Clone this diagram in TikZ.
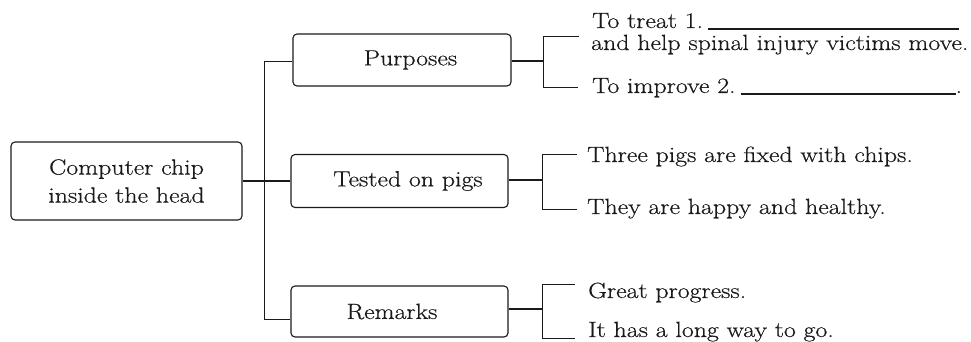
\documentclass[tikz,border=0pt]{standalone}
\usepackage{fontspec}
\setmainfont{Latin Modern Roman}[FakeStretch=1.175,FakeBold=0.5]
\definecolor{ink}{HTML}{1A1A1A}
\begin{document}
\begin{tikzpicture}[x=1pt,y=-1pt,
  every node/.style={font=\fontsize{22}{28}\selectfont,text=ink},
  box/.style={draw=ink,line width=1.1pt,rounded corners=4pt,inner sep=0pt},
  txt/.style={anchor=base west,inner sep=0pt},
  link/.style={draw=ink,line width=1.8pt},
  bline/.style={draw=ink,line width=1pt}]
\useasboundingbox (0,0) rectangle (971,342);

% boxes
\node[box,minimum width=231pt,minimum height=78pt,align=center] (root) at (126.5,181) {Computer chip\\inside the head};
\node[box,minimum width=218pt,minimum height=52pt] (pur) at (402,60) {\hspace*{17pt}Purposes};
\node[box,minimum width=217pt,minimum height=53pt] (test) at (399.5,181) {\hspace*{17pt}Tested on pigs};
\node[box,minimum width=217pt,minimum height=51pt] (rem) at (399.5,311.5) {Remarks\hspace*{15pt}};

% trunk
\coordinate (ttop) at (264,62);
\coordinate (tbot) at (264,319);
\draw[bline] (pur.west |- ttop) -- (ttop) -- (tbot) -- (rem.west |- tbot);
\draw[link] (root.east) -- (test.west);

% purposes bracket
\coordinate (pj) at (543,61);
\coordinate (pa) at (579,37);
\coordinate (pz) at (578,88);
\draw[link] (pur.east |- pj) -- (pj);
\draw[bline] (pa) -- (pa -| pj) -- (pz -| pj) -- (pz);

% tested bracket
\coordinate (tj) at (542,180);
\coordinate (ta) at (577,154);
\coordinate (tz) at (577,209);
\draw[link] (test.east |- tj) -- (tj);
\draw[bline] (ta) -- (ta -| tj) -- (tz -| tj) -- (tz);

% remarks bracket
\coordinate (rj) at (542,309);
\coordinate (ra) at (575,284);
\coordinate (rz) at (575,338);
\draw[link] (rem.east |- rj) -- (rj);
\draw[bline] (ra) -- (ra -| rj) -- (rz -| rj) -- (rz);

% texts
\node[txt] (p1) at (592,28) {To treat 1.\hspace{5pt}\rule[-2pt]{251pt}{1.5pt}};
\node[txt] (p2) at (591,50) {and help spinal injury victims move.};
\node[txt] (p3) at (592,93) {To improve 2.\hspace{5pt}\rule[-2pt]{215pt}{1.5pt}.};
\node[txt] (t1) at (587,162) {Three pigs are fixed with chips.};
\node[txt] (t2) at (587,214) {They are happy and healthy.};
\node[txt] (r1) at (588,298) {Great progress.};
\node[txt] (r2) at (588,337) {It has a long way to go.};
\end{tikzpicture}
\end{document}
